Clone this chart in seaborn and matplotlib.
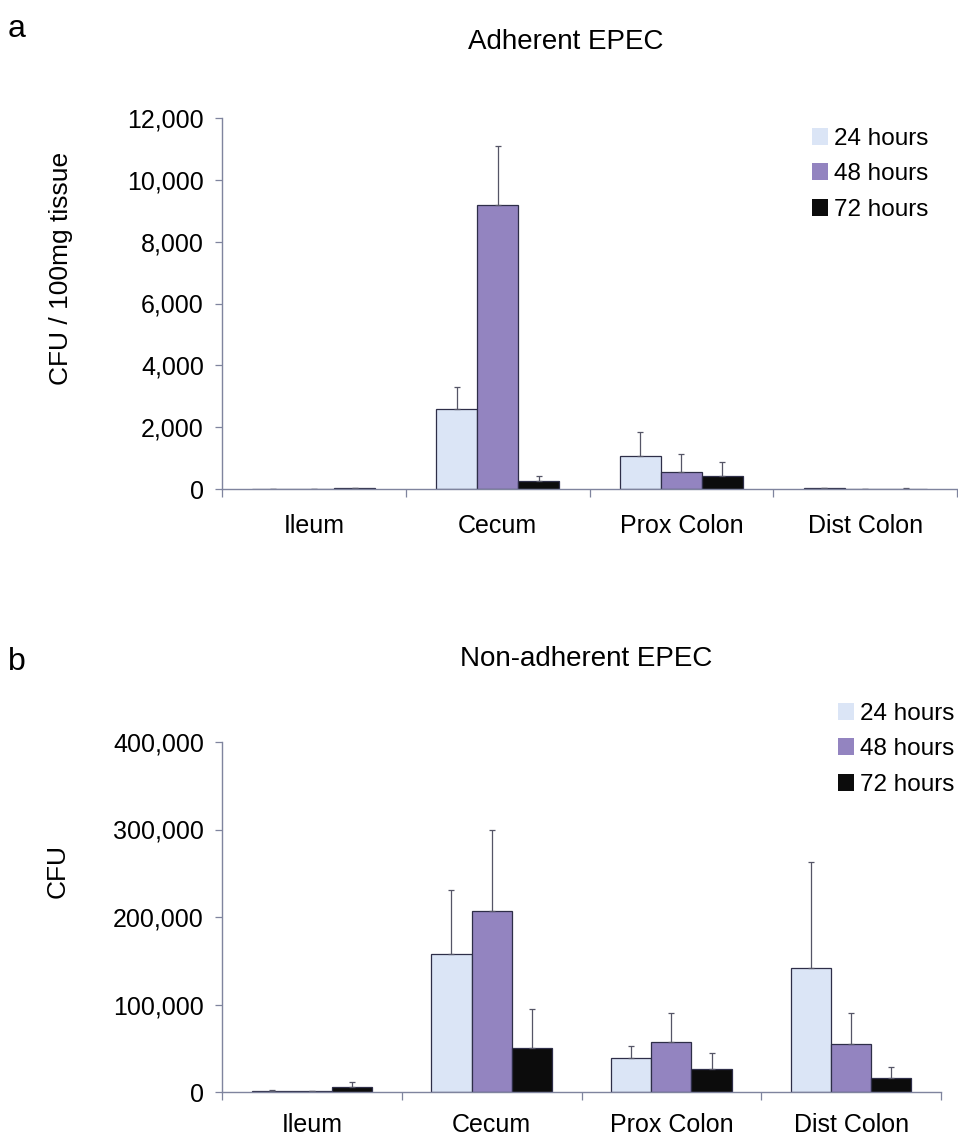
import matplotlib
matplotlib.use("Agg")
import numpy as np
import pandas as pd
import seaborn as sns
import matplotlib.pyplot as plt
from matplotlib.ticker import FuncFormatter, FixedLocator
from matplotlib.patches import Patch

# ---------------- data ----------------
sites = ["Ileum", "Cecum", "Prox Colon", "Dist Colon"]
times = ["24 hours", "48 hours", "72 hours"]

adh_24 = [10, 2600, 1080, 30]
adh_48 = [5, 9200, 560, 10]
adh_72 = [20, 270, 430, 15]
adh_err_24 = [5, 700, 760, 10]
adh_err_48 = [3, 1900, 570, 5]
adh_err_72 = [10, 140, 440, 8]

non_24 = [1500, 158000, 38500, 142000]
non_48 = [700, 207000, 57000, 55000]
non_72 = [6000, 50000, 26000, 16000]
non_err_24 = [300, 73000, 14500, 120500]
non_err_48 = [200, 93000, 33500, 35500]
non_err_72 = [5000, 45000, 18500, 12500]

adh_yticks = [0, 2000, 4000, 6000, 8000, 10000, 12000]
non_yticks = [0, 100000, 200000, 300000, 400000]

colors = ["#dbe5f6", "#9384c0", "#0c0c0c"]
edge = "#2e2e48"
axis_col = "#7f849e"

sns.set_theme(style="white")
plt.rcParams["font.family"] = ["Liberation Sans", "DejaVu Sans"]
plt.rcParams["text.color"] = "black"
plt.rcParams["axes.labelcolor"] = "black"
plt.rcParams["xtick.color"] = "black"
plt.rcParams["ytick.color"] = "black"
FS = 18


def long_df(v24, v48, v72, e24, e48, e72):
    rows = []
    for t, vals, errs in zip(times, [v24, v48, v72], [e24, e48, e72]):
        for s, v, e in zip(sites, vals, errs):
            rows.append({"site": s, "time": t, "value": v, "err": e})
    return pd.DataFrame(rows)


def draw(ax, df, yticks, xpad):
    sns.barplot(data=df, x="site", y="value", hue="time", order=sites,
                hue_order=times, palette=colors, width=0.67, errorbar=None,
                edgecolor=edge, linewidth=0.9, legend=False, ax=ax,
                saturation=1)
    conts = list(ax.containers)
    for i, cont in enumerate(conts):
        sub = df[df["time"] == times[i]].set_index("site").loc[sites]
        xs = [p.get_x() + p.get_width() / 2 for p in cont.patches]
        hs = [p.get_height() for p in cont.patches]
        ax.errorbar(xs, hs, yerr=[np.zeros(len(xs)), sub["err"].values],
                    fmt="none", ecolor="#555566", elinewidth=0.9,
                    capsize=2, capthick=0.9, zorder=1)
    ax.set_xlim(-0.5, 3.5)
    ax.set_ylim(yticks[0], yticks[-1])
    ax.set_yticks(yticks)
    ax.yaxis.set_major_formatter(FuncFormatter(lambda v, p: f"{int(v):,}"))
    ax.xaxis.set_minor_locator(FixedLocator([-0.5, 0.5, 1.5, 2.5, 3.5]))
    ax.tick_params(axis="x", which="major", length=0, pad=xpad, labelsize=FS)
    ax.tick_params(axis="x", which="minor", length=6, width=0.9,
                   color=axis_col, direction="out", bottom=True)
    ax.tick_params(axis="y", length=5, width=0.9, color=axis_col,
                   direction="out", left=True, labelsize=FS, pad=8)
    for s in ["top", "right"]:
        ax.spines[s].set_visible(False)
    for s in ["left", "bottom"]:
        ax.spines[s].set_color(axis_col)
        ax.spines[s].set_linewidth(1.0)
    ax.set_xlabel("")


fig = plt.figure(figsize=(9.58, 11.38), dpi=100)
W, H = 958, 1138


def axes_px(l, t, r, b):
    return fig.add_axes([l / W, 1 - b / H, (r - l) / W, (b - t) / H])


ax1 = axes_px(222, 118, 957, 489)
ax2 = axes_px(222, 742, 941, 1092)

draw(ax1, long_df(adh_24, adh_48, adh_72, adh_err_24, adh_err_48, adh_err_72), adh_yticks, 18)
draw(ax2, long_df(non_24, non_48, non_72, non_err_24, non_err_48, non_err_72), non_yticks, 15)

ax1.set_ylabel("CFU / 100mg tissue", fontsize=19)
ax1.yaxis.set_label_coords((73 - 222) / 735, (489 - 268) / 371)
ax2.set_ylabel("CFU", fontsize=19)
ax2.yaxis.set_label_coords((70 - 222) / 719, (1092 - 871) / 350)

fig.text(566 / W, 1 - 49 / H, "Adherent EPEC", ha="center", va="baseline", fontsize=20)
fig.text(586 / W, 1 - 666 / H, "Non-adherent EPEC", ha="center", va="baseline", fontsize=20)
fig.text(8 / W, 1 - 37 / H, "a", ha="left", va="baseline", fontsize=23)
fig.text(8 / W, 1 - 670 / H, "b", ha="left", va="baseline", fontsize=23)

handles = [Patch(facecolor=c, edgecolor="none") for c in colors]
for ax, (lx, ly) in [(ax1, (812, 128)), (ax2, (838, 703))]:
    ax.legend(handles, times, loc="upper left",
              bbox_to_anchor=(lx / W, 1 - ly / H), bbox_transform=fig.transFigure,
              frameon=False, fontsize=17.5, handlelength=0.65, handleheight=0.7,
              handletextpad=0.25, labelspacing=0.55, borderpad=0, borderaxespad=0)

fig.savefig("out.png", dpi=100, facecolor="white")
